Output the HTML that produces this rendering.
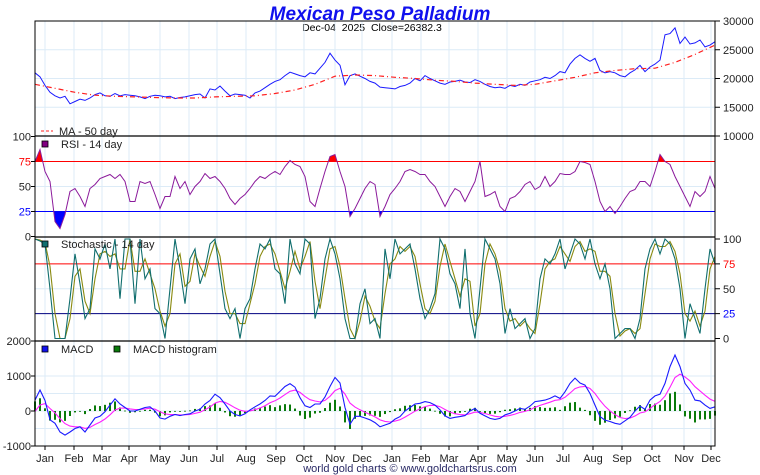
<!DOCTYPE html>
<html><head><meta charset="utf-8"><style>
html,body{margin:0;padding:0;background:#fff;}
svg{display:block;font-family:"Liberation Sans",sans-serif;}
</style></head><body>
<svg id="c" width="760" height="475" viewBox="0 0 760 475" xmlns="http://www.w3.org/2000/svg">
<text x="380" y="20" text-anchor="middle" font-size="19" font-weight="bold" font-style="italic" fill="#1010ee">Mexican Peso Palladium</text>
<text x="372" y="31" text-anchor="middle" font-size="10.5" fill="#000" style="white-space:pre">Dec-04  2025  Close=26382.3</text>
<text x="410" y="472" text-anchor="middle" font-size="11" fill="#2a2a66">world gold charts © www.goldchartsrus.com</text>
<g id="grid"></g>
<g id="marks"></g>
<g id="frame"></g>
</svg>
<script>
const price = [21,20.3,18.8,17.6,17,16.6,16.9,15.6,16,16.4,
16.2,16.6,17.2,17.5,17,16.9,17.4,17,17.2,17.1,
17,16.8,16.5,16.9,17.1,17,16.8,16.9,16.5,16.7,
16.8,17,17.2,17.3,16.6,18.2,18,18.7,17.8,17,
17.3,17.2,17.1,16.6,17.5,17.8,18.4,19,19.5,19.8,
20.5,21.1,20.8,20.5,20.3,21,20.8,21.8,22.8,24.4,
23.2,22.3,18.9,20.5,20.8,20.4,20,19.5,19.2,18.5,
18.4,18.3,18.2,18.6,18.8,19.2,20,19.6,20.5,20,
19.6,19.2,19,19.4,19.5,19.7,19.4,19.3,19.8,19.5,
19,18.6,18.4,18.5,18.3,18.8,18.6,19,18.8,19.4,
19.6,19.8,20.2,20,20.5,21.2,21,22.5,23.5,24.1,
23.5,23,23.5,21.4,21,21.2,21,20.5,20.3,21,
21.5,22.3,21.2,22,22.5,23.2,27.6,27.8,28.8,26.1,
27.2,26,26.2,26.7,25.5,25.8,26.4];
const ma50 = [19,18.3,17.6,17.1,16.9,16.8,16.7,16.6,16.6,16.8,16.9,17,17.4,18,19,20.4,20.6,20.5,20.2,20,19.7,19.5,19.2,19,18.8,19,19.6,20.2,21,21.4,21.7,21.8,22.8,24.2,25.8];
const rsi = [75,87,65,55,15,8,22,45,48,40,
30,48,52,58,60,62,58,62,55,35,
35,55,53,55,42,28,40,40,60,48,
55,42,50,55,63,58,60,55,48,38,
32,38,42,48,55,60,58,62,65,62,
70,76,72,70,60,35,30,48,65,80,
82,65,50,20,28,38,48,55,52,20,
30,42,48,55,65,67,65,62,62,55,
50,40,30,40,48,45,35,45,55,75,
40,42,45,30,25,38,40,45,52,55,
47,50,60,50,55,63,62,62,65,75,
74,72,55,35,25,30,23,30,38,45,
47,55,55,50,65,82,75,72,60,50,
40,30,45,40,45,60,48];
const stochK = [100,98,95,50,0,0,0,40,85,55,
20,30,90,80,95,70,100,40,100,100,
35,100,60,70,30,25,0,50,100,70,
35,80,90,55,70,95,100,65,30,20,
30,0,30,40,70,95,90,100,70,65,
35,100,75,65,100,95,20,40,80,100,
85,60,20,0,0,35,50,15,20,0,
90,60,100,85,90,95,70,40,20,30,
45,100,90,65,55,30,90,25,0,50,
100,90,80,55,5,30,10,15,20,0,
10,60,80,75,85,100,70,85,100,95,
80,100,75,60,75,50,0,5,10,10,
0,20,70,90,100,85,100,95,80,50,
0,35,20,5,50,90,75];
const macd = [310,600,300,-250,-350,-600,-690,-600,-500,-450,
-600,-400,-200,-150,-20,170,350,200,100,0,
0,50,100,120,0,-200,-230,-150,-100,-130,
-100,-80,0,50,200,300,480,380,200,0,
-100,-140,-80,30,120,200,300,430,420,560,
700,780,680,380,150,100,200,200,400,700,
960,800,100,-380,-150,-150,-200,-250,-330,-450,
-400,-350,-230,-160,0,100,200,220,270,240,
170,30,-140,-210,-180,-160,-130,0,75,-65,
-140,-210,-240,-210,-110,-65,0,75,50,140,
270,290,310,360,430,360,550,790,940,800,
740,500,170,-160,-260,-300,-350,-380,-280,-180,
0,140,50,310,430,480,790,1270,1600,1270,
790,600,310,290,170,75,120];
const months = ["Jan","Feb","Mar","Apr","May","Jun","Jul","Aug","Sep","Oct","Nov","Dec","Jan","Feb","Mar","Apr","May","Jun","Jul","Aug","Sep","Oct","Nov","Dec"];
const monthTickPx = [45,74,102,129,160,189,217,246,276,304,335,362,392,421,449,478,507,535,563,593,622,652,684,711];
const priceTicks = [30000,25000,20000,15000,10000];
const pctTicks = [100,75,50,25,0];
const macdTicks = [2000,1000,0,-1000];

const NS="http://www.w3.org/2000/svg";
const L=35,R=715;
function mk(tag,at,parent){const e=document.createElementNS(NS,tag);for(const k in at)e.setAttribute(k,at[k]);(parent||document.getElementById('marks')).appendChild(e);return e;}
function xi(i,n){return L+(R-L)*i/(n-1);}
const yPrice=v=>21+(30-v)*5.75;
const yRsi=v=>236.5-v*1.0;
const ySto=v=>338.5-v*0.995;
const yMacd=v=>411-v*0.035;
const grid=document.getElementById('grid'), frame=document.getElementById('frame');
const gc="#dcebf7";
monthTickPx.forEach((x,i)=>{
  const g=mk('line',{x1:x,x2:x,y1:21,y2:446,stroke:gc,'stroke-width':1},grid);
  
  
  const t=mk('text',{x:x,y:462,'text-anchor':'middle','font-size':11,fill:'#222'},frame);
  t.textContent=months[i];
  
  
  mk('line',{x1:x,x2:x,y1:446,y2:450,stroke:'#000'},frame);
});
[25000,20000,15000].forEach(v=>mk('line',{x1:L,x2:R,y1:yPrice(v/1000),y2:yPrice(v/1000),stroke:gc},grid));
[50].forEach(v=>mk('line',{x1:L,x2:R,y1:yRsi(v),y2:yRsi(v),stroke:gc},grid));
[50].forEach(v=>mk('line',{x1:L,x2:R,y1:ySto(v),y2:ySto(v),stroke:gc},grid));
[1000,0,-500,500].forEach(v=>mk('line',{x1:L,x2:R,y1:yMacd(v),y2:yMacd(v),stroke:gc},grid));

function pathOf(arr,yf){return arr.map((v,i)=>(i?'L':'M')+xi(i,arr.length).toFixed(1)+','+yf(v).toFixed(1)).join('');}
const pp=mk('path',{d:pathOf(price,yPrice),fill:'none',stroke:'#1a1aff','stroke-width':1});


const mp=mk('path',{d:pathOf(ma50,yPrice),fill:'none',stroke:'#ff2020','stroke-width':1.2,'stroke-dasharray':'5,3,1,3'});



const defs=mk('defs',{},document.getElementById('c'));
const c1=mk('clipPath',{id:'above75'},defs);mk('rect',{x:L,y:136,width:R-L,height:yRsi(75)-136},c1);
const c2=mk('clipPath',{id:'below25'},defs);mk('rect',{x:L,y:yRsi(25),width:R-L,height:237-yRsi(25)},c2);
const rp=pathOf(rsi,yRsi);
const f1=mk('path',{d:rp+'L'+R+','+yRsi(75)+'L'+L+','+yRsi(75)+'Z',fill:'#ff0000','clip-path':'url(#above75)'});


const f2=mk('path',{d:rp+'L'+R+','+yRsi(25)+'L'+L+','+yRsi(25)+'Z',fill:'#0000ff','clip-path':'url(#below25)'});


mk('line',{x1:L,x2:R,y1:yRsi(75),y2:yRsi(75),stroke:'#ff0000'});
mk('line',{x1:L,x2:R,y1:yRsi(25),y2:yRsi(25),stroke:'#0000ff'});
const rl=mk('path',{d:rp,fill:'none',stroke:'#8b1a9b','stroke-width':1});



const stochD=stochK.map((v,i)=>{const a=stochK.slice(Math.max(0,i-1),i+1);return a.reduce((s,x)=>s+x,0)/a.length;});
mk('line',{x1:L,x2:R,y1:ySto(75),y2:ySto(75),stroke:'#ff0000'});
mk('line',{x1:L,x2:R,y1:ySto(25),y2:ySto(25),stroke:'#000080'});
const sd=mk('path',{d:pathOf(stochD,ySto),fill:'none',stroke:'#8a8a10','stroke-width':1.1});


const sk=mk('path',{d:pathOf(stochK,ySto),fill:'none',stroke:'#106e6e','stroke-width':1.1});



const signal=[];let e=-150;macd.forEach(v=>{e=e+0.3*(v-e);signal.push(e);});
const bw=2;
macd.forEach((v,i)=>{
  const h=(v-signal[i])*0.85, x=xi(i,macd.length);
  const y0=yMacd(0), y1=yMacd(h);
  const b=mk('rect',{x:x-bw/2,y:Math.min(y0,y1),width:bw,height:Math.max(0.8,Math.abs(y1-y0)),fill:'#0a7a0a'});
  
  
});
const sg=mk('path',{d:pathOf(signal,yMacd),fill:'none',stroke:'#ff20ff','stroke-width':1.1});


const ml=mk('path',{d:pathOf(macd,yMacd),fill:'none',stroke:'#1a1aff','stroke-width':1.1});



mk('rect',{x:L,y:21,width:R-L,height:425,fill:'none',stroke:'#000','stroke-width':1},frame);
[136,237,341].forEach(y=>mk('line',{x1:L,x2:R,y1:y,y2:y,stroke:'#000','stroke-width':1.3},frame));
function lab(x,y,txt,anchor,col,name){const t=mk('text',{x:x,y:y+4,'text-anchor':anchor,'font-size':11,fill:col||'#222'},frame);t.textContent=txt;return t;}
priceTicks.forEach(v=>{const y=yPrice(v/1000);mk('line',{x1:R,x2:R+5,y1:y,y2:y,stroke:'#000'},frame);lab(R+8,y,String(v),'start','#222','price-axis-label');});
pctTicks.forEach(v=>{const y=yRsi(v);const col=v===75?'#ff0000':v===25?'#0000ff':'#222';mk('line',{x1:L-4,x2:L,y1:y,y2:y,stroke:'#000'},frame);lab(L-4,y,String(v),'end',col,'rsi-axis-label');});
pctTicks.forEach(v=>{const y=ySto(v);const col=v===75?'#ff0000':v===25?'#0000ff':'#222';mk('line',{x1:R,x2:R+5,y1:y,y2:y,stroke:'#000'},frame);lab(R+8,y,String(v),'start',col,'stochastic-axis-label');});
macdTicks.forEach(v=>{const y=yMacd(v);mk('line',{x1:L-4,x2:L,y1:y,y2:y,stroke:'#000'},frame);lab(L-4,y,String(v),'end','#222','macd-axis-label');});

function legSq(x,y,col,name){const r=mk('rect',{x:x,y:y,width:6,height:6,fill:col,stroke:'#000','stroke-width':0.8},frame);}
mk('line',{x1:41,x2:53,y1:131,y2:131,stroke:'#ff2020','stroke-dasharray':'3,2'},frame);
lab(59,131,'MA - 50 day','start','#222','ma-legend-label');
legSq(42,141,'#800080','rsi-legend-swatch');lab(61,144,'RSI - 14 day','start','#222','rsi-legend-label');
legSq(42,241,'#106e6e','stochastic-legend-swatch');lab(61,244,'Stochastic - 14 day','start','#222','stochastic-legend-label');
legSq(42,346,'#1010ee','macd-legend-swatch');lab(61,349,'MACD','start','#222','macd-legend-label');
legSq(114,346,'#0a7a0a','histogram-legend-swatch');lab(133,349,'MACD histogram','start','#222','histogram-legend-label');
</script>
</body></html>
